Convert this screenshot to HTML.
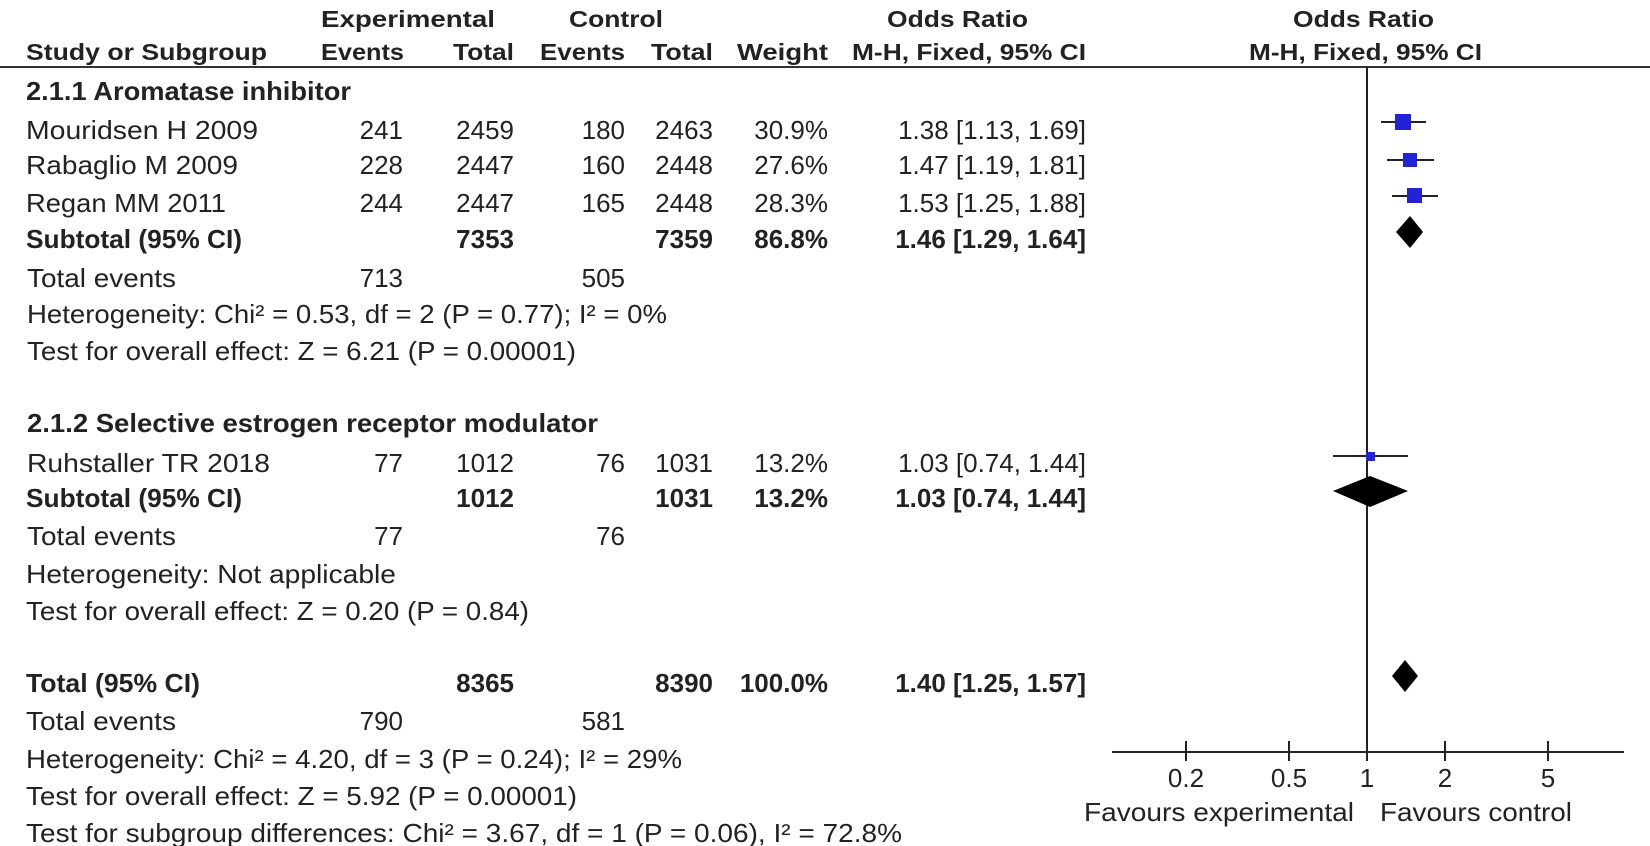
<!DOCTYPE html>
<html><head><meta charset="utf-8"><style>
html,body{margin:0;padding:0;background:#fff;}
svg{display:block;}
text{font-family:"Liberation Sans",Arial,sans-serif;fill:#222;}
.h{font-weight:bold;font-size:23px;}
.b{font-weight:bold;font-size:26px;}
.r{font-size:26px;}
</style></head><body>
<svg width="1650" height="846" viewBox="0 0 1650 846" xmlns="http://www.w3.org/2000/svg">
<!-- headers -->
<text class="h" x="321" y="27" textLength="174" lengthAdjust="spacingAndGlyphs">Experimental</text>
<text class="h" x="569" y="27" textLength="94" lengthAdjust="spacingAndGlyphs">Control</text>
<text class="h" x="887" y="27" textLength="141" lengthAdjust="spacingAndGlyphs">Odds Ratio</text>
<text class="h" x="1293" y="27" textLength="141" lengthAdjust="spacingAndGlyphs">Odds Ratio</text>
<text class="h" x="26" y="60" textLength="241" lengthAdjust="spacingAndGlyphs">Study or Subgroup</text>
<text class="h" x="321" y="60" textLength="83" lengthAdjust="spacingAndGlyphs">Events</text>
<text class="h" x="453" y="60" textLength="61" lengthAdjust="spacingAndGlyphs">Total</text>
<text class="h" x="540" y="60" textLength="85" lengthAdjust="spacingAndGlyphs">Events</text>
<text class="h" x="651" y="60" textLength="62" lengthAdjust="spacingAndGlyphs">Total</text>
<text class="h" x="737" y="60" textLength="91" lengthAdjust="spacingAndGlyphs">Weight</text>
<text class="h" x="852" y="60" textLength="234" lengthAdjust="spacingAndGlyphs">M-H, Fixed, 95% CI</text>
<text class="h" x="1249" y="60" textLength="233" lengthAdjust="spacingAndGlyphs">M-H, Fixed, 95% CI</text>
<line x1="0" y1="67" x2="1650" y2="67" stroke="#333" stroke-width="2"/>

<!-- group 1 -->
<text class="b" x="26" y="100" textLength="325" lengthAdjust="spacingAndGlyphs">2.1.1 Aromatase inhibitor</text>
<g class="r">
<text class="r" x="26" y="139" textLength="232" lengthAdjust="spacingAndGlyphs">Mouridsen H 2009</text>
<text class="r" x="403" y="139" text-anchor="end">241</text>
<text class="r" x="514" y="139" text-anchor="end">2459</text>
<text class="r" x="625" y="139" text-anchor="end">180</text>
<text class="r" x="713" y="139" text-anchor="end">2463</text>
<text class="r" x="828" y="139" text-anchor="end">30.9%</text>
<text class="r" x="1086" y="139" text-anchor="end">1.38 [1.13, 1.69]</text>

<text class="r" x="26" y="174" textLength="212" lengthAdjust="spacingAndGlyphs">Rabaglio M 2009</text>
<text class="r" x="403" y="174" text-anchor="end">228</text>
<text class="r" x="514" y="174" text-anchor="end">2447</text>
<text class="r" x="625" y="174" text-anchor="end">160</text>
<text class="r" x="713" y="174" text-anchor="end">2448</text>
<text class="r" x="828" y="174" text-anchor="end">27.6%</text>
<text class="r" x="1086" y="174" text-anchor="end">1.47 [1.19, 1.81]</text>

<text class="r" x="26" y="212" textLength="200" lengthAdjust="spacingAndGlyphs">Regan MM 2011</text>
<text class="r" x="403" y="212" text-anchor="end">244</text>
<text class="r" x="514" y="212" text-anchor="end">2447</text>
<text class="r" x="625" y="212" text-anchor="end">165</text>
<text class="r" x="713" y="212" text-anchor="end">2448</text>
<text class="r" x="828" y="212" text-anchor="end">28.3%</text>
<text class="r" x="1086" y="212" text-anchor="end">1.53 [1.25, 1.88]</text>
</g>
<text class="b" x="26" y="248" textLength="216" lengthAdjust="spacingAndGlyphs">Subtotal (95% CI)</text>
<text class="b" x="514" y="248" text-anchor="end">7353</text>
<text class="b" x="713" y="248" text-anchor="end">7359</text>
<text class="b" x="828" y="248" text-anchor="end">86.8%</text>
<text class="b" x="1086" y="248" text-anchor="end">1.46 [1.29, 1.64]</text>

<text class="r" x="27" y="287" textLength="149" lengthAdjust="spacingAndGlyphs">Total events</text>
<text class="r" x="403" y="287" text-anchor="end">713</text>
<text class="r" x="625" y="287" text-anchor="end">505</text>
<text class="r" x="27" y="323" textLength="640" lengthAdjust="spacingAndGlyphs">Heterogeneity: Chi² = 0.53, df = 2 (P = 0.77); I² = 0%</text>
<text class="r" x="27" y="360" textLength="549" lengthAdjust="spacingAndGlyphs">Test for overall effect: Z = 6.21 (P = 0.00001)</text>

<!-- group 2 -->
<text class="b" x="27" y="432" textLength="571" lengthAdjust="spacingAndGlyphs">2.1.2 Selective estrogen receptor modulator</text>
<text class="r" x="27" y="472" textLength="243" lengthAdjust="spacingAndGlyphs">Ruhstaller TR 2018</text>
<text class="r" x="403" y="472" text-anchor="end">77</text>
<text class="r" x="514" y="472" text-anchor="end">1012</text>
<text class="r" x="625" y="472" text-anchor="end">76</text>
<text class="r" x="713" y="472" text-anchor="end">1031</text>
<text class="r" x="828" y="472" text-anchor="end">13.2%</text>
<text class="r" x="1086" y="472" text-anchor="end">1.03 [0.74, 1.44]</text>
<text class="b" x="26" y="507" textLength="216" lengthAdjust="spacingAndGlyphs">Subtotal (95% CI)</text>
<text class="b" x="514" y="507" text-anchor="end">1012</text>
<text class="b" x="713" y="507" text-anchor="end">1031</text>
<text class="b" x="828" y="507" text-anchor="end">13.2%</text>
<text class="b" x="1086" y="507" text-anchor="end">1.03 [0.74, 1.44]</text>
<text class="r" x="27" y="545" textLength="149" lengthAdjust="spacingAndGlyphs">Total events</text>
<text class="r" x="403" y="545" text-anchor="end">77</text>
<text class="r" x="625" y="545" text-anchor="end">76</text>
<text class="r" x="26" y="583" textLength="370" lengthAdjust="spacingAndGlyphs">Heterogeneity: Not applicable</text>
<text class="r" x="26" y="620" textLength="503" lengthAdjust="spacingAndGlyphs">Test for overall effect: Z = 0.20 (P = 0.84)</text>

<!-- total -->
<text class="b" x="26" y="692" textLength="174" lengthAdjust="spacingAndGlyphs">Total (95% CI)</text>
<text class="b" x="514" y="692" text-anchor="end">8365</text>
<text class="b" x="713" y="692" text-anchor="end">8390</text>
<text class="b" x="828" y="692" text-anchor="end">100.0%</text>
<text class="b" x="1086" y="692" text-anchor="end">1.40 [1.25, 1.57]</text>
<text class="r" x="26" y="730" textLength="150" lengthAdjust="spacingAndGlyphs">Total events</text>
<text class="r" x="403" y="730" text-anchor="end">790</text>
<text class="r" x="625" y="730" text-anchor="end">581</text>
<text class="r" x="26" y="768" textLength="656" lengthAdjust="spacingAndGlyphs">Heterogeneity: Chi² = 4.20, df = 3 (P = 0.24); I² = 29%</text>
<text class="r" x="26" y="805" textLength="551" lengthAdjust="spacingAndGlyphs">Test for overall effect: Z = 5.92 (P = 0.00001)</text>
<text class="r" x="26" y="842" textLength="876" lengthAdjust="spacingAndGlyphs">Test for subgroup differences: Chi² = 3.67, df = 1 (P = 0.06), I² = 72.8%</text>

<!-- forest plot -->
<line x1="1367" y1="67" x2="1367" y2="752" stroke="#222" stroke-width="2"/>
<line x1="1112" y1="752" x2="1624" y2="752" stroke="#222" stroke-width="2"/>
<g stroke="#222" stroke-width="2">
<line x1="1186" y1="741" x2="1186" y2="761"/>
<line x1="1289" y1="741" x2="1289" y2="761"/>
<line x1="1367" y1="741" x2="1367" y2="761"/>
<line x1="1445" y1="741" x2="1445" y2="761"/>
<line x1="1548" y1="741" x2="1548" y2="761"/>
</g>
<g class="r" text-anchor="middle">
<text class="r" x="1186" y="787" text-anchor="middle">0.2</text>
<text class="r" x="1289" y="787" text-anchor="middle">0.5</text>
<text class="r" x="1367" y="787" text-anchor="middle">1</text>
<text class="r" x="1445" y="787" text-anchor="middle">2</text>
<text class="r" x="1548" y="787" text-anchor="middle">5</text>
</g>
<text class="r" x="1084" y="821" textLength="270" lengthAdjust="spacingAndGlyphs">Favours experimental</text>
<text class="r" x="1380" y="821" textLength="192" lengthAdjust="spacingAndGlyphs">Favours control</text>

<g stroke="#222" stroke-width="2">
<line x1="1381" y1="122" x2="1426" y2="122"/>
<line x1="1387" y1="160" x2="1434" y2="160"/>
<line x1="1392" y1="196" x2="1438" y2="196"/>
<line x1="1333" y1="456" x2="1408" y2="456"/>
</g>
<g fill="#2222d6">
<rect x="1395" y="114" width="16" height="16"/>
<rect x="1403" y="153" width="14" height="14"/>
<rect x="1407" y="188" width="15" height="15"/>
<rect x="1366" y="452" width="9" height="9"/>
</g>
<g fill="#000">
<polygon points="1396,232 1410,216 1423,232 1410,248"/>
<polygon points="1333,491 1370,476 1408,491 1370,507"/>
<polygon points="1392,676 1405,660 1418,676 1405,692"/>
</g>
</svg>
</body></html>
